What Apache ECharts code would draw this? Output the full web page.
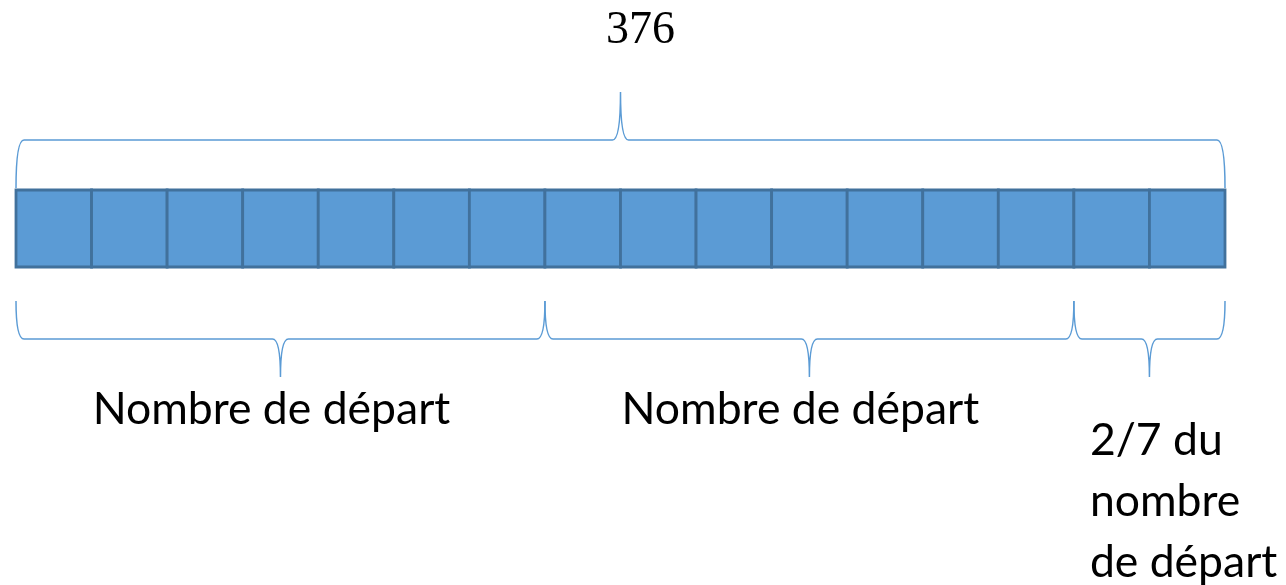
<!DOCTYPE html>
<html>
<head>
<meta charset="utf-8">
<title>376</title>
<script src="https://cdn.jsdelivr.net/npm/echarts@6/dist/echarts.min.js"></script>
<style>
html, body { margin: 0; padding: 0; background: #fff; }
#main { width: 1286px; height: 585px; }
</style>
</head>
<body>
<div id="main"></div>
<script>
// données du schéma en barre
var totalLabel = '376';
var groupCells = [7, 7, 2];
var groupLabels = ['Nombre de départ', 'Nombre de départ', '2/7 du\nnombre\nde départ'];

// construire les cases et les accolades à partir des groupes
var cellData = [];
var braceData = [];
var pos = 0;
for (var g = 0; g < groupCells.length; g++) {
	braceData.push([pos, pos + groupCells[g], g]);
	for (var k = 0; k < groupCells[g]; k++) {
		cellData.push([pos, pos + 1, g]);
		pos++;
	}
}
var totalCells = pos;

var fillColor = '#5B9BD5';
var borderColor = '#41719C';
var braceColor = '#5B9BD5';

//tracé d'une accolade horizontale
function bracePath (x1, x2, xm, yEnd, yLine, yTip) {
	var r = 8;
	return 'M' + x1 + ',' + yEnd + ' Q' + x1 + ',' + yLine + ' ' + (x1 + r) + ',' + yLine
		+ ' L' + (xm - r) + ',' + yLine + ' Q' + xm + ',' + yLine + ' ' + xm + ',' + yTip
		+ ' Q' + xm + ',' + yLine + ' ' + (xm + r) + ',' + yLine
		+ ' L' + (x2 - r) + ',' + yLine + ' Q' + x2 + ',' + yLine + ' ' + x2 + ',' + yEnd;
}

var myChart = echarts.init(document.getElementById('main'));
var option = {
	animation: false,
	backgroundColor: '#ffffff',
	grid: { left: 16, right: 61, top: 190, bottom: 318 },
	xAxis: { type: 'value', min: 0, max: totalCells, show: false },
	yAxis: { type: 'value', min: 0, max: 1, show: false },
	series: [{
		// cases de la barre
		type: 'custom',
		data: cellData,
		renderItem: function (params, api) {
			var p0 = api.coord([api.value(0), 1]);
			var p1 = api.coord([api.value(1), 0]);
			return {
				type: 'rect',
				shape: { x: p0[0], y: p0[1], width: p1[0] - p0[0], height: p1[1] - p0[1] },
				style: { fill: fillColor, stroke: borderColor, lineWidth: 2.8 }
			};
		}
	}, {
		// accolade du haut : total
		type: 'custom',
		data: [[0, totalCells]],
		renderItem: function (params, api) {
			var a = api.coord([api.value(0), 1]);
			var b = api.coord([api.value(1), 1]);
			var xm = (a[0] + b[0]) / 2;
			var yt = a[1];
			return {
				type: 'group',
				children: [{
					type: 'path',
					shape: { pathData: bracePath(a[0], b[0], xm, yt - 2, yt - 50, yt - 98) },
					style: { fill: null, stroke: braceColor, lineWidth: 1.5 }
				}, {
					type: 'text',
					style: {
						text: totalLabel, x: xm + 20, y: yt - 159,
						font: '46px "Liberation Serif"', fill: '#000',
						align: 'center', verticalAlign: 'middle'
					}
				}]
			};
		}
	}, {
		// accolades du bas
		type: 'custom',
		data: braceData,
		renderItem: function (params, api) {
			var a = api.coord([api.value(0), 0]);
			var b = api.coord([api.value(1), 0]);
			var xm = (a[0] + b[0]) / 2;
			var yb = a[1];
			var label = groupLabels[api.value(2)];
			var multi = label.indexOf('\n') >= 0;
			return {
				type: 'group',
				children: [{
					type: 'path',
					shape: { pathData: bracePath(a[0], b[0], xm, yb + 34, yb + 72, yb + 110) },
					style: { fill: null, stroke: braceColor, lineWidth: 1.5 }
				}, {
					type: 'text',
					style: {
						text: label,
						x: multi ? a[0] + 16 : xm - 9,
						y: multi ? yb + 235 : yb + 143,
						font: '44.5px Lato', fill: '#000', lineHeight: 61,
						align: multi ? 'left' : 'center', verticalAlign: 'middle'
					}
				}]
			};
		}
	}]
};
myChart.setOption(option);
</script>
</body>
</html>
